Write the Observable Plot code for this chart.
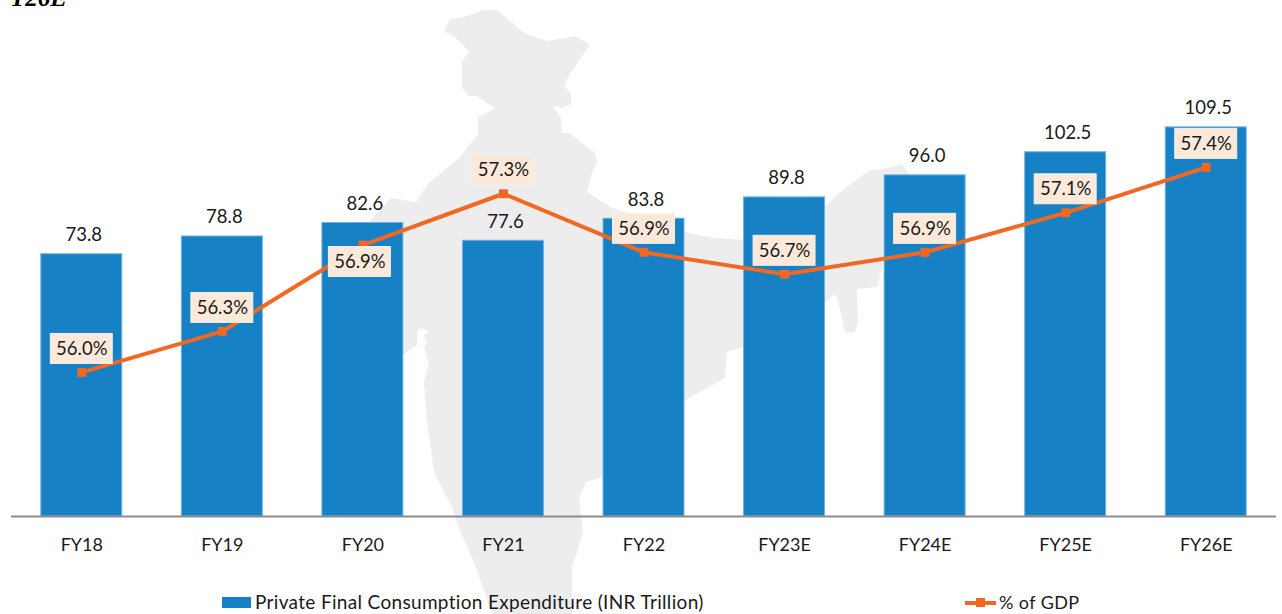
<!DOCTYPE html>
<html>
<head>
<meta charset="utf-8">
<script src="https://cdn.jsdelivr.net/npm/d3@7"></script>
<script src="https://cdn.jsdelivr.net/npm/@observablehq/plot@0.6"></script>
<style>
  html, body { margin: 0; padding: 0; background: #fff; overflow: hidden; }
  #page { position: relative; width: 1282px; height: 614px; overflow: hidden; font-family: Lato, sans-serif; color: #1a1a1a; }
  #map { position: absolute; left: 0; top: 0; }
  #chart { position: absolute; left: 0; top: 0; }
  #clipped { position: absolute; left: 10px; top: -14.5px; font: italic bold 25px/24px "Liberation Serif", serif; color: #000; }
  .lg { position: absolute; top: 590px; height: 24px; line-height: 24px; white-space: nowrap; }
  .sw { position: absolute; }
</style>
</head>
<body>
<div id="page">
  <svg id="map" width="1282" height="614" aria-hidden="true">
    <path fill="#EDEDED" d="M444,31 L450,19 L467,16 L484,10 L497,10 L524,33 L547,41 L575,36 L590,45 L571,72 L564,86 L571,94 L571,104 L562,108 L553,106 L561,119 L562,133 L569,133 L594,152 L597,162 L592,173 L587,192 L612,208 L684,232 L714,238 L744,240 L824,207 L843,190 L870,170 L883,169 L902,164 L908,173 L915,185 L884,260 L877,287 L857,289 L858,322 L855,332 L845,332 L836,294 L825,302 L800,320 L743,347 L727,352 L725,378 L685,400 L602,477 L586,482 L579,498 L583,533 L572,567 L572,614 L492,614 L477,570 L457,523 L452,507 L434,472 L427,420 L424,382 L429,363 L424,348 L427,343 L424,335 L429,331 L420,328 L417,332 L417,345 L403,355 L360,300 L369,222 L391,198 L416,202 L429,183 L459,158 L478,134 L478,117 L496,108 L488,104 L477,96 L468,96 L462,87 L462,62 L469,51 L455,37 Z"/>
  </svg>
  <div id="chart"></div>
  <div id="clipped">Y26E</div>
  <div class="sw" style="left:222px;top:597px;width:29px;height:11px;background:#1681C5"></div>
  <div class="lg" id="lg1" style="left:255px;font-size:19px;letter-spacing:0.33px">Private Final Consumption Expenditure (INR Trillion)</div>
  <div class="sw" style="left:965px;top:601px;width:31px;height:4px;background:#F26722"></div>
  <div class="sw" style="left:976px;top:598px;width:9px;height:9px;background:#F26722"></div>
  <div class="lg" id="lg2" style="left:999px;font-size:18px;letter-spacing:0.4px">% of GDP</div>
</div>
<script>
const years = ["FY18","FY19","FY20","FY21","FY22","FY23E","FY24E","FY25E","FY26E"];
const consumption = [73.8,78.8,82.6,77.6,83.8,89.8,96.0,102.5,109.5];
const gdpShare = [56.0,56.28,56.87,57.22,56.82,56.67,56.82,57.09,57.4];
const gdpLabels = ["56.0%","56.3%","56.9%","57.3%","56.9%","56.7%","56.9%","57.1%","57.4%"];
const labelSide = ["above","above","below","above","above","above","above","above","above"];

const barColor = "#1681C5", lineColor = "#F26722", boxColor = "#FCE9DA";
const table = years.map((year, i) => ({
  year, value: consumption[i], share: gdpShare[i], label: gdpLabels[i], side: labelSide[i]
}));

// The % of GDP series sits on a hidden secondary axis, mapped onto the bar axis.
const shareAxis = d3.scaleLinear([56.0, 57.4], [40.54, 98.25]);
const sy = d => shareAxis(d.share);
const boxH = 4.22;

const labelMarks = (side, dx, dy) => {
  const rows = table.filter(d => d.side === side);
  return [
    Plot.barY(rows, {x: "year", y1: d => sy(d) - boxH, y2: d => sy(d) + boxH, fill: boxColor, stroke: "#F4F0EA", strokeWidth: 1, insetLeft: 9.5, insetRight: 9.5, dx, dy}),
    Plot.text(rows, {x: "year", y: sy, text: "label", dx, dy, fontSize: 18.5, fill: "#1a1a1a"})
  ];
};

const chart = Plot.plot({
  width: 1282, height: 580,
  marginLeft: 11, marginRight: 6, marginTop: 10, marginBottom: 64,
  style: {background: "transparent", fontFamily: "Lato, sans-serif"},
  x: {domain: years, paddingInner: 0.424, paddingOuter: 0.212, align: 0.5, round: false, label: null},
  y: {domain: [0, 142.4], range: [516, 10], axis: null},
  marks: [
    Plot.barY(table, {x: "year", y: "value", fill: barColor, stroke: "#6FB1E0", strokeWidth: 1}),
    Plot.ruleY([0], {stroke: "#8C8C8C", strokeWidth: 2}),
    Plot.axisX({tickSize: 0, tickPadding: 22, fontSize: 18, fill: "#1a1a1a", label: null}),
    Plot.text(table, {x: "year", y: "value", text: d => d.value.toFixed(1), dy: -19, dx: 2, fontSize: 18.5, fill: "#1a1a1a"}),
    Plot.line(table, {x: "year", y: sy, stroke: lineColor, strokeWidth: 4}),
    Plot.dot(table, {x: "year", y: sy, symbol: "square", r: 5, fill: lineColor}),
    ...labelMarks("above", 0, -23.5),
    ...labelMarks("below", -3, 17)
  ]
});
document.getElementById("chart").append(chart);
</script>
</body>
</html>
